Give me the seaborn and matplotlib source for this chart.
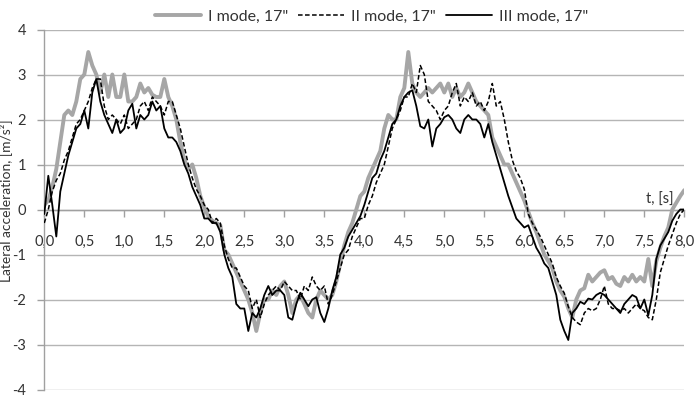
import numpy as np
import pandas as pd
import matplotlib
matplotlib.use("Agg")
import matplotlib.pyplot as plt
import seaborn as sns

# ---- data (0.05 s sampling) ----
time_s = np.round(np.arange(161) * 0.05, 2)

mode_I = [
    0.1, 0.2, 0.5, 0.9, 1.5, 2.1, 2.2, 2.1, 2.4, 2.9, 3.0, 3.5, 3.2, 3.0, 2.6, 3.0, 2.5, 3.0, 2.5, 2.5,
    3.0, 2.4, 2.4, 2.5, 2.8, 2.6, 2.7, 2.55, 2.5, 2.5, 2.9, 2.5, 2.3, 2.0, 1.5, 1.1, 0.9, 1.0, 0.7, 0.3,
    0.05, -0.15, -0.25, -0.3, -0.35, -0.9, -1.0, -1.2, -1.4, -1.6, -1.8, -2.0, -2.3, -2.7, -2.3, -2.0, -2.0, -1.8, -1.9, -1.7,
    -1.6, -1.9, -2.3, -2.0, -1.9, -2.1, -2.3, -2.4, -2.0, -1.8, -1.9, -2.0, -1.9, -1.6, -1.2, -0.8, -0.5, -0.3, 0.0, 0.3,
    0.4, 0.7, 0.9, 1.1, 1.3, 1.8, 2.1, 2.0, 2.0, 2.5, 2.7, 3.5, 2.8, 2.6, 2.5, 2.6, 2.7, 2.6, 2.7, 2.8,
    2.6, 2.8, 2.5, 2.7, 2.5, 2.6, 2.8, 2.6, 2.4, 2.3, 2.2, 2.1, 1.6, 1.4, 1.2, 1.0, 1.0, 0.8, 0.6, 0.4,
    0.2, -0.05, -0.3, -0.5, -0.75, -1.0, -1.15, -1.3, -1.6, -1.8, -1.94, -2.2, -2.4, -2.0, -1.8, -1.75, -1.45, -1.6, -1.5, -1.4,
    -1.35, -1.55, -1.5, -1.65, -1.7, -1.5, -1.6, -1.45, -1.6, -1.5, -1.6, -1.1, -1.7, -1.15, -0.85, -0.6, -0.4, 0.0, 0.15, 0.3,
    0.43,
]

mode_II = [
    -0.3, 0.0, 0.4, 0.65, 0.8, 1.1, 1.3, 1.6, 1.9, 2.0, 2.2, 2.4, 2.7, 2.9, 2.9, 2.3, 2.0, 2.1, 2.0, 1.9,
    2.1, 1.8, 1.9, 2.0, 2.3, 2.4, 2.2, 2.5, 2.4, 2.3, 2.1, 2.4, 2.4, 2.1, 1.8, 1.4, 1.0, 0.7, 0.45, 0.3,
    0.1, 0.0, -0.3, -0.2, -0.3, -0.8, -1.1, -1.3, -1.3, -1.5, -1.7, -1.8, -2.2, -2.0, -2.4, -2.1, -1.9, -1.8, -1.7, -1.8,
    -1.6, -1.7, -1.8, -1.8, -2.0, -1.7, -1.8, -1.5, -1.7, -1.8, -1.7, -2.1, -1.9, -1.6, -1.3, -1.0, -0.9, -0.6, -0.4, -0.2,
    -0.2, 0.1, 0.3, 0.6, 0.8, 1.0, 1.4, 1.8, 2.0, 2.2, 2.5, 2.5, 2.8, 2.6, 3.2, 3.0, 2.4, 2.3, 2.2, 2.0,
    2.2, 2.3, 2.6, 2.8, 2.3, 2.5, 2.4, 2.6, 2.3, 2.4, 2.2, 2.4, 2.8, 2.3, 2.4, 2.0, 1.5, 1.1, 0.85, 0.7,
    0.45, -0.1, -0.3, -0.45, -0.6, -0.8, -1.0, -1.2, -1.5, -1.7, -1.86, -2.16, -2.4, -2.5, -2.56, -2.3, -2.2, -2.25, -2.2, -2.0,
    -1.7, -2.1, -2.2, -2.2, -2.25, -2.2, -2.3, -2.2, -2.1, -2.2, -2.25, -2.4, -2.45, -2.0, -1.4, -1.1, -0.8, -0.55, -0.3, -0.1,
    0.0,
]

mode_III = [
    -0.1, 0.75, 0.1, -0.6, 0.4, 0.8, 1.2, 1.5, 1.8, 1.9, 2.2, 1.8, 2.6, 2.9, 2.4, 2.1, 1.9, 1.7, 2.0, 1.7,
    1.8, 2.2, 2.35, 1.8, 2.1, 2.0, 2.1, 2.4, 2.2, 2.3, 1.8, 1.6, 1.6, 1.5, 1.3, 1.0, 0.8, 0.5, 0.3, 0.1,
    -0.2, -0.2, -0.3, -0.3, -0.5, -1.0, -1.3, -1.5, -2.1, -2.2, -2.2, -2.7, -2.3, -2.4, -2.2, -1.9, -1.7, -1.9, -1.8, -1.8,
    -1.9, -2.4, -2.45, -2.1, -1.85, -2.0, -2.15, -2.0, -1.95, -2.3, -2.5, -2.2, -1.8, -1.5, -1.0, -0.85, -0.6, -0.45, -0.3, -0.15,
    0.1, 0.4, 0.7, 0.8, 1.1, 1.3, 1.6, 1.9, 2.0, 2.3, 2.5, 2.6, 2.65, 2.3, 1.85, 1.8, 2.0, 1.4, 1.8, 1.9,
    2.05, 2.1, 2.0, 1.8, 1.7, 2.0, 2.1, 2.0, 2.0, 1.9, 1.6, 1.9, 1.5, 1.2, 0.9, 0.6, 0.3, 0.05, -0.2, -0.3,
    -0.4, -0.35, -0.6, -0.85, -1.0, -1.2, -1.3, -1.6, -1.9, -2.45, -2.7, -2.9, -2.3, -2.2, -2.05, -2.1, -1.98, -2.0, -1.9, -1.85,
    -1.9, -2.0, -2.1, -2.2, -2.3, -2.1, -2.0, -1.9, -1.95, -2.2, -2.0, -2.35, -1.9, -1.1, -0.8, -0.65, -0.5, -0.25, -0.1, 0.0,
    0.0,
]

series_labels = ['I mode, 17"', 'II mode, 17"', 'III mode, 17"']
x_ticks = [i * 0.5 for i in range(17)]
x_tick_labels = [f"{v:.1f}".replace(".", ",") for v in x_ticks]
y_ticks = list(range(-4, 5))
y_tick_labels = [str(v) for v in y_ticks]

# ---- style ----
sns.set_style("white")
plt.rcParams['font.family'] = ['Lato', 'DejaVu Sans']
plt.rcParams['axes.unicode_minus'] = False
text_color = '#333333'
grid_color = '#b5b5b5'

fig = plt.figure(figsize=(6.95, 4.04), dpi=100)
W, H = 695, 404
x0, x1 = 44.3, 684.3
y_top, y_bot = 29.5, 389.5
ax = fig.add_axes([x0 / W, 1 - y_bot / H, (x1 - x0) / W, (y_bot - y_top) / H])

sns.lineplot(x=time_s, y=mode_I, ax=ax, color='#a6a6a6', lw=2.8,
             label=series_labels[0], zorder=3)
sns.lineplot(x=time_s, y=mode_II, ax=ax, color='black', lw=1.1,
             linestyle=(0, (3, 1.6)), label=series_labels[1], zorder=4)
sns.lineplot(x=time_s, y=mode_III, ax=ax, color='black', lw=1.3,
             label=series_labels[2], zorder=5)

ax.set_xlim(0, 8)
ax.set_ylim(-4, 4)
ax.set_yticks(y_ticks)
ax.set_yticklabels(y_tick_labels)
ax.set_xticks(x_ticks)
ax.set_xticklabels(x_tick_labels)
ax.yaxis.grid(True, color=grid_color, lw=1.0, zorder=0)
ax.xaxis.grid(False)
ax.set_axisbelow(True)

for s in ['top', 'right']:
    ax.spines[s].set_visible(False)
ax.spines['left'].set_color('#a0a0a0')
ax.spines['left'].set_linewidth(1.0)
ax.spines['bottom'].set_position(('data', 0))
ax.spines['bottom'].set_color('#a0a0a0')
ax.spines['bottom'].set_linewidth(1.0)

ax.tick_params(axis='x', direction='out', length=5, width=1, color='#a0a0a0',
               pad=13, labelsize=10.5, labelcolor=text_color, bottom=True)
ax.tick_params(axis='y', direction='out', length=5, width=1, color='#a0a0a0',
               pad=8, labelsize=10.5, labelcolor=text_color, left=True)

ax.set_xlabel("")
ax.set_ylabel("Lateral acceleration, [m/s²]", fontsize=10, color=text_color)
ax.yaxis.set_label_coords((12.5 - x0) / (x1 - x0), 0.525)

ax.text(7.70, 0.22, "t, [s]", ha='center', va='center', fontsize=10.5, color=text_color)

ax.legend_.remove()
handles, labels = ax.get_legend_handles_labels()
fig.legend(handles, labels, loc='center', bbox_to_anchor=(371.5 / W, 1 - 17 / H),
           ncol=3, frameon=False, fontsize=11.5, handlelength=2.9, handletextpad=0.45,
           columnspacing=0.6, labelcolor=text_color)

fig.savefig("out.png", dpi=100)
